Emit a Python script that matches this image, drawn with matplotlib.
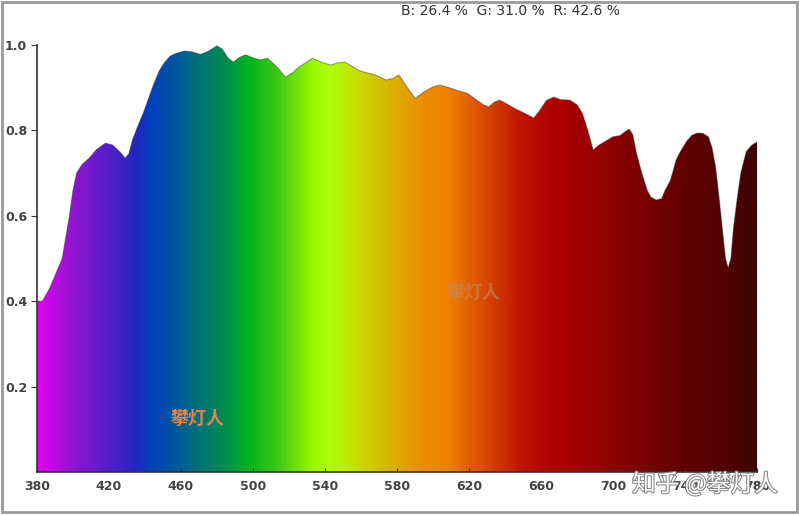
import numpy as np
import matplotlib
matplotlib.use('Agg')
import matplotlib.pyplot as plt
import matplotlib.patheffects as pe
from matplotlib.colors import LinearSegmentedColormap
from matplotlib.patches import Rectangle

plt.rcParams['font.family'] = ['DejaVu Sans', 'Noto Sans CJK SC']

# spectrum (nm, relative value)
wavelength = [380, 383, 387, 391, 394, 396, 398, 400, 402, 405, 409, 413, 418, 422, 426, 429,
              431, 433, 436, 439, 442, 445, 448, 451, 454, 457, 462, 466, 471, 475, 480, 483,
              486, 489, 493, 496, 500, 504, 508, 513, 518, 522, 526, 530, 533, 538, 543, 547,
              551, 555, 559, 563, 568, 574, 578, 581, 585, 590, 595, 600, 604, 609, 614, 619,
              624, 628, 631, 634, 637, 641, 646, 651, 656, 659, 663, 667, 671, 676, 680, 683,
              686, 689, 692, 696, 700, 704, 707, 709, 711, 713, 716, 719, 721, 724, 727, 729,
              732, 735, 737, 741, 744, 747, 750, 753, 755, 757, 759, 761, 762.5, 764, 765.5,
              767, 769, 771, 774, 777, 780]
intensity = [0.40, 0.40, 0.43, 0.47, 0.50, 0.55, 0.60, 0.66, 0.70, 0.72, 0.735, 0.755, 0.77, 0.766, 0.75, 0.735,
             0.745, 0.777, 0.81, 0.84, 0.875, 0.91, 0.94, 0.96, 0.974, 0.98, 0.986, 0.984, 0.978, 0.985, 0.998, 0.99,
             0.97, 0.96, 0.972, 0.977, 0.97, 0.965, 0.969, 0.95, 0.925, 0.935, 0.95, 0.96, 0.969, 0.96, 0.953, 0.958,
             0.96, 0.95, 0.94, 0.935, 0.93, 0.918, 0.922, 0.93, 0.905, 0.875, 0.89, 0.902, 0.906, 0.90, 0.893, 0.887,
             0.872, 0.86, 0.855, 0.866, 0.871, 0.862, 0.85, 0.84, 0.829, 0.845, 0.87, 0.878, 0.872, 0.871, 0.86, 0.84,
             0.80, 0.754, 0.765, 0.775, 0.785, 0.788, 0.798, 0.803, 0.79, 0.747, 0.70, 0.66, 0.644, 0.637, 0.64, 0.66,
             0.684, 0.73, 0.747, 0.775, 0.789, 0.794, 0.793, 0.785, 0.76, 0.714, 0.64, 0.56, 0.50, 0.478, 0.50,
             0.574, 0.64, 0.70, 0.75, 0.765, 0.773]

x_ticks = [380, 420, 460, 500, 540, 580, 620, 660, 700, 740, 780]
y_ticks = [0.2, 0.4, 0.6, 0.8, 1.0]
title = 'B: 26.4 %  G: 31.0 %  R: 42.6 %'

# colour of the fill across the spectrum
stops = [(380, '#e000f0'), (398, '#9614d2'), (417, '#5a1ec8'), (435, '#1e28be'), (443, '#0040be'),
         (458, '#005a96'), (472, '#00786e'), (484, '#008c50'), (497, '#00b41e'), (513, '#3cc814'),
         (534, '#a0fa00'), (543, '#aaff0a'), (558, '#c8dc00'), (576, '#d7b400'), (595, '#eb8c00'),
         (608, '#f08200'), (626, '#dc5000'), (650, '#be1400'), (667, '#af0000'), (684, '#a00000'),
         (710, '#820000'), (737, '#640000'), (765, '#500000'), (780, '#3c0505')]
cmap = LinearSegmentedColormap.from_list(
    'spec', [((w - 380) / 400, c) for w, c in stops])

fig = plt.figure(figsize=(7.99, 5.15), dpi=100)
ax = fig.add_axes([37 / 799, 43 / 515, 720 / 799, 427 / 515])
ax.set_xlim(380, 780)
ax.set_ylim(0, 1.0)

poly = ax.fill_between(wavelength, 0, intensity, color='none', lw=0)
grad = np.linspace(0, 1, 800).reshape(1, -1)
img = ax.imshow(grad, cmap=cmap, aspect='auto', extent=[380, 780, 0, 1.0], origin='lower', zorder=1)
clip = poly.get_paths()[0]
img.set_clip_path(clip, transform=ax.transData)
ax.plot(wavelength, intensity, color='#333333', lw=0.8, alpha=0.45, zorder=2,
        solid_joinstyle='round')

for s in ['top', 'right']:
    ax.spines[s].set_visible(False)
for s in ['left', 'bottom']:
    ax.spines[s].set_color('#333333')
    ax.spines[s].set_linewidth(1.2)
ax.spines['left'].set_bounds(0, 1.0)

ax.set_xticks(x_ticks)
ax.set_yticks(y_ticks)
ax.set_yticklabels(['%.1f' % v for v in y_ticks])
ax.tick_params(axis='x', direction='in', length=3, colors='#333333', labelcolor='#444444',
               labelsize=9, pad=6)
ax.tick_params(axis='y', direction='out', length=4, colors='#333333', labelcolor='#444444',
               labelsize=9, pad=3)
for lbl in ax.get_xticklabels() + ax.get_yticklabels():
    lbl.set_fontweight('bold')

fig.text(510 / 799, 1 - 11 / 515, title, ha='center', va='center', fontsize=10,
         color='#333333')

# watermarks
fig.text(198 / 799, 1 - 418 / 515, '攀灯人', ha='center', va='center', fontsize=13,
         fontweight='bold', color='#e0864c', family=['Noto Sans CJK SC', 'DejaVu Sans'])
fig.text(474 / 799, 1 - 292 / 515, '攀灯人', ha='center', va='center', fontsize=13,
         fontweight='bold', color='#c08a6a', alpha=0.6, family=['Noto Sans CJK SC', 'DejaVu Sans'])
fig.text(705 / 799, 1 - 484 / 515, '知乎 @攀灯人', ha='center', va='center', fontsize=17,
         color='white', family=['Noto Sans CJK SC', 'DejaVu Sans'],
         path_effects=[pe.withStroke(linewidth=1.5, foreground='#888888')])

fig.patches.append(Rectangle((0.002, 0.006), 0.995, 0.99, transform=fig.transFigure,
                             fill=False, edgecolor='#999999', lw=2))

fig.savefig('out.png', dpi=100)
